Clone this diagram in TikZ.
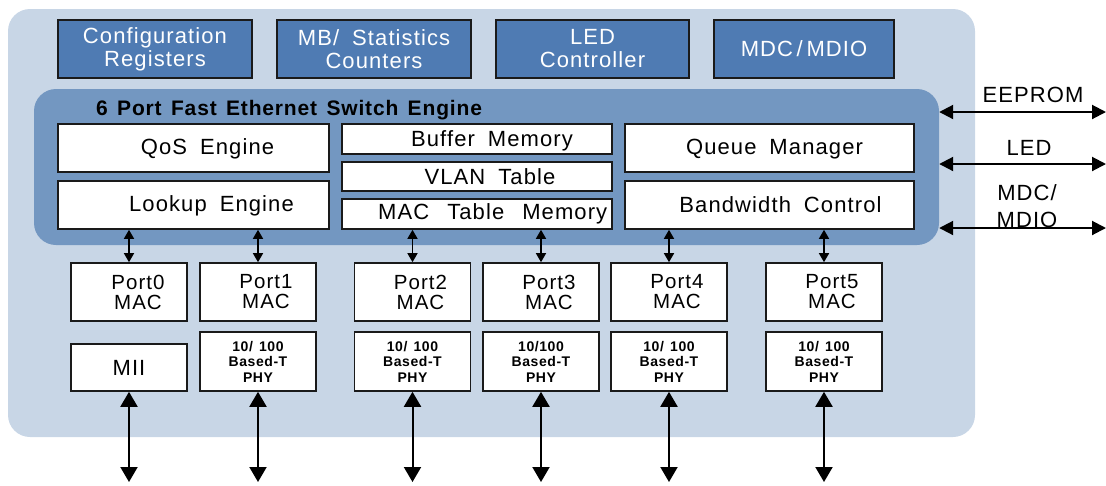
\documentclass[tikz,border=0pt]{standalone}
\usepackage{fontspec}
\setmainfont{Liberation Sans}
\newfontfamily\lblfont[LetterSpace=5,WordSpace=1.8]{Liberation Sans}
\newfontfamily\boldlbl[LetterSpace=4,WordSpace=1.4]{Liberation Sans}
\usetikzlibrary{arrows.meta}
\definecolor{chipbg}{HTML}{C8D6E6}
\definecolor{enginebg}{HTML}{7397C1}
\definecolor{ctrlbg}{HTML}{4F7BB3}
\definecolor{edge}{HTML}{1A1A1A}
\tikzset{
  wbox/.style={draw=edge, line width=1.6pt, fill=white, inner sep=0pt, align=center,
    font=\lblfont\fontsize{22}{23}\selectfont},
  ctrlbox/.style={draw=edge, line width=1.6pt, fill=ctrlbg, text=white, inner sep=0pt,
    align=center, minimum width=194, minimum height=58,
    font=\lblfont\fontsize{22}{23}\selectfont},
  macbox/.style={wbox, minimum width=116, minimum height=58,
    font=\lblfont\fontsize{20.5}{20}\selectfont},
  phybox/.style={wbox, minimum width=116, minimum height=59,
    font=\boldlbl\bfseries\fontsize{14}{15.5}\selectfont},
  lbl/.style={inner sep=0pt, align=center, font=\lblfont\fontsize{22}{27}\selectfont},
  shortlink/.style={line width=1.5pt, {Triangle[width=10pt,length=9pt]}-{Triangle[width=10pt,length=9pt]}},
  longlink/.style={line width=2pt, {Triangle[width=17pt,length=15pt]}-{Triangle[width=17pt,length=15pt]}},
  sidelink/.style={line width=2pt, {Triangle[width=14pt,length=14pt]}-{Triangle[width=14pt,length=14pt]}},
}
\begin{document}
\begin{tikzpicture}[x=1pt, y=-1pt]
\useasboundingbox (0,0) rectangle (1106,485);

% chip outline and switch engine
\node[fill=chipbg, rounded corners=22pt, minimum width=967, minimum height=428, inner sep=0pt]
  (chip) at (491.5,223) {};
\node[fill=enginebg, rounded corners=22pt, minimum width=905, minimum height=156, inner sep=0pt]
  (engine) at (486.5,167) {};
\node[anchor=base west, inner sep=0pt, font=\boldlbl\bfseries\fontsize{21}{22}\selectfont]
  (title) at (96,115) {6 Port Fast Ethernet Switch Engine};

% control blocks
\node[ctrlbox] (cfg) at (155,49) {Configuration\\Registers};
\node[ctrlbox] (mib) at (374,49) {MB/ Statistics\\Counters};
\node[ctrlbox, minimum width=193] (ledc) at (592.5,49) {LED\\Controller};
\node[ctrlbox, minimum width=180] (mdc) at (804,49) {MDC\,/\,MDIO};

% engine blocks
\node[wbox, minimum width=271, minimum height=48] (qos) at (193.5,148) {};
\node[lbl] at ([xshift=14pt,yshift=-1pt]qos.center) {QoS Engine};
\node[wbox, minimum width=271, minimum height=48] (lookup) at (193.5,205) {};
\node[lbl] at ([xshift=18pt,yshift=-1pt]lookup.center) {Lookup Engine};
\node[wbox, minimum width=270, minimum height=30] (buf) at (477,139) {};
\node[lbl] at ([xshift=15pt,yshift=-2pt]buf.center) {Buffer Memory};
\node[wbox, minimum width=270, minimum height=29] (vlan) at (477,176.5) {};
\node[lbl] at ([xshift=13pt]vlan.center) {VLAN Table};
\node[wbox, minimum width=270, minimum height=30] (mact) at (477,214) {};
\node[lbl, anchor=west] at (378,214) {MAC\hspace{18pt}Table\hspace{18pt}Memory};
\node[wbox, minimum width=289, minimum height=48] (queue) at (769.5,148) {};
\node[lbl] at ([xshift=5pt,yshift=-1pt]queue.center) {Queue Manager};
\node[wbox, minimum width=289, minimum height=48] (bw) at (769.5,205) {};
\node[lbl] at ([xshift=11pt]bw.center) {Bandwidth Control};

% port MACs
\node[macbox] (mac0) at (129,292) {\hspace*{18pt}Port0\\\hspace*{18pt}MAC};
\node[macbox] (mac1) at (258,292) {\hspace*{16pt}Port1\\\hspace*{16pt}MAC};
\node[macbox] (mac2) at (412.5,292) {\hspace*{16pt}Port2\\\hspace*{16pt}MAC};
\node[macbox] (mac3) at (541,292) {\hspace*{16pt}Port3\\\hspace*{16pt}MAC};
\node[macbox] (mac4) at (669,292) {\hspace*{16pt}Port4\\\hspace*{16pt}MAC};
\node[macbox] (mac5) at (824,292) {\hspace*{16pt}Port5\\\hspace*{16pt}MAC};

% PHYs and MII
\node[wbox, minimum width=116, minimum height=47, font=\lblfont\fontsize{22}{24}\selectfont]
  (mii) at (129,367.5) {MII};
\node[phybox] (phy1) at (258,361.5) {10/ 100\\Based-T\\PHY};
\node[phybox] (phy2) at (412.5,361.5) {10/ 100\\Based-T\\PHY};
\node[phybox] (phy3) at (541,361.5) {10/100\\Based-T\\PHY};
\node[phybox] (phy4) at (669,361.5) {10/ 100\\Based-T\\PHY};
\node[phybox] (phy5) at (824,361.5) {10/ 100\\Based-T\\PHY};

% engine to MAC links
\draw[shortlink] (mac0.north |- lookup.south) -- (mac0.north);
\draw[shortlink] (mac1.north |- lookup.south) -- (mac1.north);
\draw[shortlink] (mac2.north |- mact.south) -- (mac2.north);
\draw[shortlink] (mac3.north |- mact.south) -- (mac3.north);
\draw[shortlink] (mac4.north |- bw.south) -- (mac4.north);
\draw[shortlink] (mac5.north |- bw.south) -- (mac5.north);

% external line interfaces
\coordinate (bottom) at (0,482);
\draw[longlink] (mii.south) -- (mii.south |- bottom);
\draw[longlink] (phy1.south) -- (phy1.south |- bottom);
\draw[longlink] (phy2.south) -- (phy2.south |- bottom);
\draw[longlink] (phy3.south) -- (phy3.south |- bottom);
\draw[longlink] (phy4.south) -- (phy4.south |- bottom);
\draw[longlink] (phy5.south) -- (phy5.south |- bottom);

% management interfaces
\coordinate (eepR) at (1106,112);
\coordinate (ledR) at (1106,164);
\coordinate (mdioR) at (1106,228);
\draw[sidelink] (eepR -| engine.east) -- (eepR);
\draw[sidelink] (ledR -| engine.east) -- (ledR);
\draw[sidelink] (mdioR -| engine.east) -- (mdioR);
\node[lbl] (eepl) at (1033,95) {EEPROM};
\node[lbl] (ledl) at (1029,148) {LED};
\node[lbl] (mdcl) at (1027,206) {MDC/\\MDIO};
\end{tikzpicture}
\end{document}
